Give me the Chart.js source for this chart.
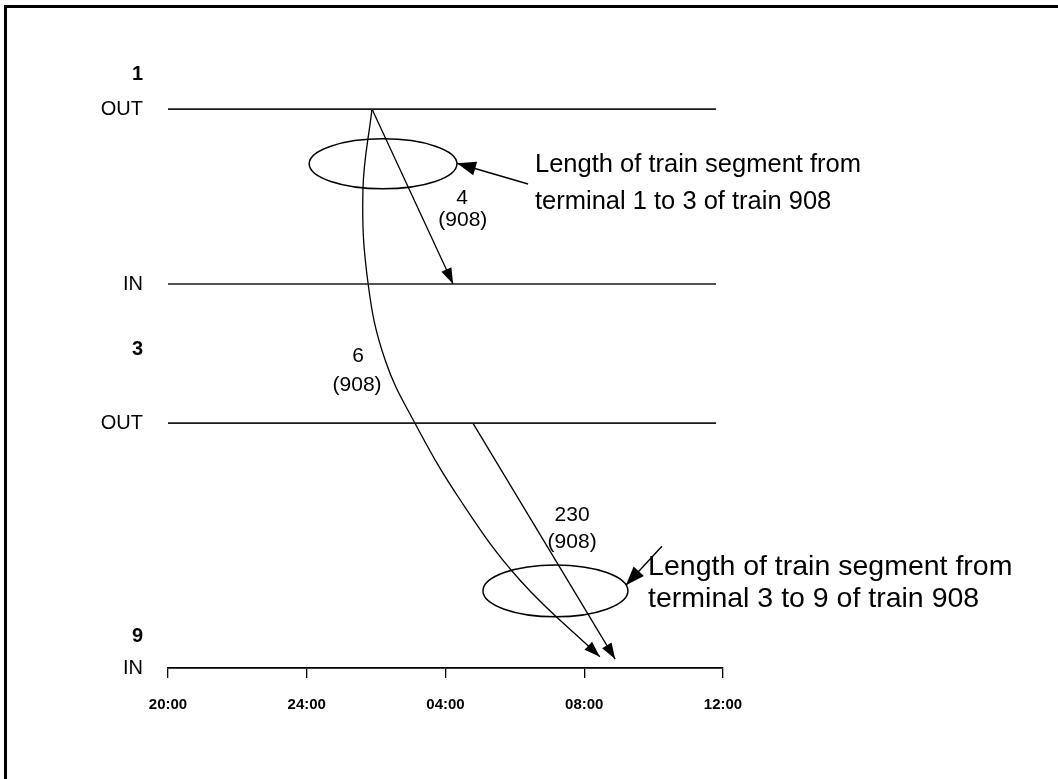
<!DOCTYPE html>
<html><head><meta charset="utf-8">
<script src="https://cdn.jsdelivr.net/npm/chart.js@4.4.1/dist/chart.umd.min.js"></script>
<style>
html,body{margin:0;padding:0;background:#fff;}
#wrap{position:relative;width:1058px;height:779px;overflow:hidden;}
#frame{position:absolute;left:4px;top:5px;width:1100px;height:800px;border-left:3px solid #000;border-top:3px solid #000;}
canvas{position:absolute;left:0;top:0;}
</style></head><body>
<div id="wrap"><div id="frame"></div><canvas id="c" width="1058" height="779"></canvas></div>
<script>
// ---- data (x = hours after 20:00, y = vertical level, 0 = terminal 1 OUT, 100 = terminal 9 IN)
const timeTickValues = [0, 4, 8, 12, 16];
const timeTickLabels = ['20:00', '24:00', '04:00', '08:00', '12:00'];
const levelValues = [0, 31.3, 56.2, 100];
const levelLabels = ['OUT', 'IN', 'OUT', 'IN'];
const terminalLabels = ['1', '3', '9'];
const terminalValues = [-6.1, 43.1, 94.3];
const stationLineLevels = [0, 31.3, 56.2];
const stationLineFrom = 0;
const stationLineTo = 15.8;

const seg4Hours = [5.88, 8.22];
const seg4Levels = [0, 31.3];
const seg6Hours = [5.88, 5.62, 5.77, 6.26, 7.12, 8.42, 10.15, 12.45];
const seg6Levels = [0, 14.5, 31.3, 44.9, 56.2, 69.9, 84.3, 98.0];
const seg230Hours = [8.79, 12.89];
const seg230Levels = [56.2, 98.4];
const segLengths = ['4', '6', '230'];
const trainNumber = '908';

const FONT = "'Liberation Sans', Arial, sans-serif";
const pts = (xs, ys) => xs.map((v, i) => ({x: v, y: ys[i]}));

const datasets = stationLineLevels.map(l => ({
  data: [{x: stationLineFrom, y: l}, {x: stationLineTo, y: l}],
  borderColor: '#1a1a1a', borderWidth: 1.7, pointRadius: 0, showLine: true, clip: false
}));
datasets.push(
  {data: pts(seg4Hours, seg4Levels), borderColor: '#000', borderWidth: 1.3, pointRadius: 0, showLine: true, tension: 0, arrow: true, clip: false},
  {data: pts(seg6Hours, seg6Levels), borderColor: '#000', borderWidth: 1.3, pointRadius: 0, showLine: true, tension: 0.4, arrow: true, clip: false},
  {data: pts(seg230Hours, seg230Levels), borderColor: '#000', borderWidth: 1.3, pointRadius: 0, showLine: true, tension: 0, arrow: true, clip: false}
);

// annotation layout (data units)
const notes = {
  labels: [
    {t: segLengths[0], x: 8.48, y: 15.9}, {t: '(' + trainNumber + ')', x: 8.50, y: 19.9},
    {t: segLengths[1], x: 5.48, y: 44.2}, {t: '(' + trainNumber + ')', x: 5.45, y: 49.4},
    {t: segLengths[2], x: 11.65, y: 72.6}, {t: '(' + trainNumber + ')', x: 11.65, y: 77.5}
  ],
  ellipses: [
    {x: 6.20, y: 9.8, rx: 2.13, ry: 4.47},
    {x: 11.17, y: 86.2, rx: 2.09, ry: 4.65}
  ],
  pointers: [
    {fx: 10.38, fy: 13.4, tx: 8.33, ty: 9.7},
    {fx: 14.24, fy: 78.2, tx: 13.2, ty: 85.2}
  ],
  texts: [
    {lines: ['Length of train segment from', 'terminal 1 to 3 of train ' + trainNumber], x: 10.58, y: 10.0, dy: 6.6, size: 25.5},
    {lines: ['Length of train segment from', 'terminal 3 to 9 of train ' + trainNumber], x: 13.84, y: 81.9, dy: 5.8, size: 28.5}
  ]
};

function head(ctx, fx, fy, tx, ty, len, half) {
  const a = Math.atan2(ty - fy, tx - fx);
  const c = Math.cos(a), s = Math.sin(a);
  ctx.beginPath();
  ctx.moveTo(tx, ty);
  ctx.lineTo(tx - len * c + half * s, ty - len * s - half * c);
  ctx.lineTo(tx - len * c - half * s, ty - len * s + half * c);
  ctx.closePath();
  ctx.fill();
}

const overlay = {
  id: 'overlay',
  afterDatasetsDraw(chart) {
    const {ctx, scales: {x, y}} = chart;
    const X = v => x.getPixelForValue(v), Y = v => y.getPixelForValue(v);
    ctx.save();
    ctx.fillStyle = '#000'; ctx.strokeStyle = '#000';
    chart.data.datasets.forEach((ds, i) => {
      if (!ds.arrow) return;
      const p = chart.getDatasetMeta(i).data;
      const e = p[p.length - 1];
      let fx = p[p.length - 2].x, fy = p[p.length - 2].y;
      if (ds.tension > 0 && e.cp1x !== undefined) { fx = e.cp1x; fy = e.cp1y; }
      head(ctx, fx, fy, e.x, e.y, 16, 5.5);
    });
    ctx.lineWidth = 1.5;
    notes.ellipses.forEach(el => {
      ctx.beginPath();
      ctx.ellipse(X(el.x), Y(el.y), X(el.x + el.rx) - X(el.x), Y(el.y + el.ry) - Y(el.y), 0, 0, Math.PI * 2);
      ctx.stroke();
    });
    ctx.lineWidth = 1.4;
    notes.pointers.forEach(pt => {
      ctx.beginPath(); ctx.moveTo(X(pt.fx), Y(pt.fy)); ctx.lineTo(X(pt.tx), Y(pt.ty)); ctx.stroke();
      head(ctx, X(pt.fx), Y(pt.fy), X(pt.tx), Y(pt.ty), 19, 7);
    });
    ctx.textBaseline = 'middle';
    ctx.textAlign = 'center';
    ctx.font = '21px ' + FONT;
    notes.labels.forEach(l => ctx.fillText(l.t, X(l.x), Y(l.y)));
    ctx.textAlign = 'left';
    notes.texts.forEach(t => {
      ctx.font = t.size + 'px ' + FONT;
      t.lines.forEach((ln, k) => ctx.fillText(ln, X(t.x), Y(t.y + k * t.dy)));
    });
    ctx.restore();
  }
};

const yTickValues = levelValues.concat(terminalValues);
const yTickText = v => {
  const i = levelValues.indexOf(v);
  return i >= 0 ? levelLabels[i] : terminalLabels[terminalValues.indexOf(v)];
};

new Chart(document.getElementById('c'), {
  type: 'scatter',
  data: {datasets},
  options: {
    responsive: false, animation: false,
    layout: {padding: {left: 20, right: 335, top: 42, bottom: 51}},
    plugins: {legend: {display: false}, tooltip: {enabled: false}},
    scales: {
      x: {
        type: 'linear', min: 0, max: 16,
        afterBuildTicks: s => { s.ticks = timeTickValues.map(v => ({value: v})); },
        afterFit: s => { s.height = 60; },
        ticks: {
          callback: v => timeTickLabels[timeTickValues.indexOf(v)],
          color: '#000', font: {family: FONT, size: 15, weight: 'bold'}, padding: 18, maxRotation: 0
        },
        grid: {drawOnChartArea: false, drawTicks: true, tickLength: 10, color: '#000', lineWidth: 1.3},
        border: {display: true, color: '#000', width: 1.7}
      },
      y: {
        type: 'linear', min: -12, max: 100, reverse: true,
        afterBuildTicks: s => { s.ticks = yTickValues.map(v => ({value: v})); },
        afterFit: s => { s.width = 148; },
        ticks: {
          callback: v => yTickText(v),
          color: '#000', padding: 25,
          font: c => ({family: FONT, size: 20, weight: terminalValues.includes(c.tick && c.tick.value) ? 'bold' : 'normal'})
        },
        grid: {display: false, drawTicks: false},
        border: {display: false}
      }
    }
  },
  plugins: [overlay]
});
</script>
</body></html>
